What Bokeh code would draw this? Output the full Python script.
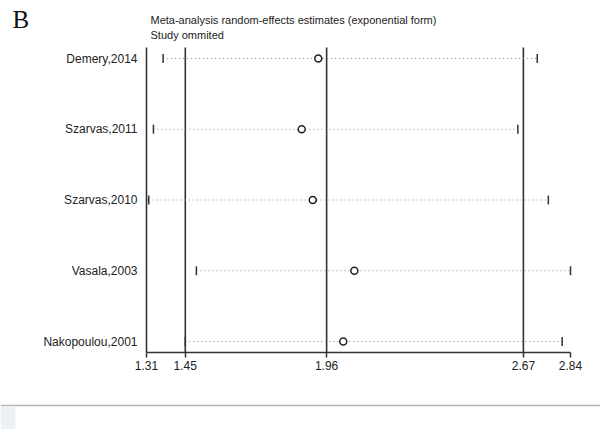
from bokeh.plotting import figure
from bokeh.models import Range1d, LinearAxis, FixedTicker, Label, Span, BoxAnnotation, PrintfTickFormatter
from bokeh.core.properties import value
from bokeh.embed import file_html
from bokeh.resources import INLINE

# ---- data ----
studies = ["Demery,2014", "Szarvas,2011", "Szarvas,2010", "Vasala,2003", "Nakopoulou,2001"]
estimate = [1.93, 1.87, 1.91, 2.06, 2.02]
lower_ci = [1.37, 1.335, 1.318, 1.49, 1.45]
upper_ci = [2.72, 2.65, 2.76, 2.84, 2.81]
summary_lines = [1.45, 1.96, 2.67]
axis_min, axis_max = 1.31, 2.84
tick_values = [1.31, 1.45, 1.96, 2.67, 2.84]
rows = [5, 4, 3, 2, 1]

title1 = "Meta-analysis random-effects estimates (exponential form)"
title2 = "Study ommited"

# ---- layout ----
W, H = 600, 429
px_x = 424 / (axis_max - axis_min)
px_y = 70.75
x0 = axis_min - 146 / px_x
x1 = x0 + W / px_x
y0 = 1 - 88 / px_y
y1 = y0 + H / px_y
axis_y = y0 + 77 / px_y
top_y = 5 + 11 / px_y

DARK = "#333333"
FONT = "Liberation Sans"

p = figure(width=W, height=H, x_range=Range1d(x0, x1), y_range=Range1d(y0, y1),
           x_axis_type=None, y_axis_type=None, toolbar_location=None,
           output_backend="svg", min_border=0, outline_line_color=None)

# vertical reference lines (axis at min + summary lines)
vx = [axis_min] + summary_lines
p.segment(x0=vx, y0=[axis_y] * len(vx), x1=vx, y1=[top_y] * len(vx),
          line_color=DARK, line_width=1.6)

# dotted CI lines
p.segment(x0=lower_ci, y0=rows, x1=upper_ci, y1=rows,
          line_color="#8c8c8c", line_width=1, line_dash="1 3")

# CI end ticks
h = 4.5 / px_y
ends = lower_ci + upper_ci
rr = rows + rows
p.segment(x0=ends, y0=[r - h for r in rr], x1=ends, y1=[r + h for r in rr],
          line_color=DARK, line_width=1.5)

# estimates
p.scatter(x=estimate, y=rows, marker="circle", size=7, fill_color="white",
          line_color="#222222", line_width=1.5)

# study labels
p.text(x=[axis_min] * len(rows), y=rows, text=studies, x_offset=-9,
       text_align="right", text_baseline="middle", text_font=value(FONT),
       text_font_size="12px", text_color="#222222")

# x axis
ax = LinearAxis(fixed_location=axis_y, bounds=(axis_min, axis_max),
                ticker=FixedTicker(ticks=tick_values),
                formatter=PrintfTickFormatter(format="%.2f"),
                major_tick_out=5, major_tick_in=0, minor_tick_out=0, minor_tick_in=0,
                axis_line_color=DARK, axis_line_width=1.5,
                major_tick_line_color=DARK, major_tick_line_width=1.5,
                major_label_text_font=FONT, major_label_text_font_size="12px",
                major_label_text_color="#222222", major_label_standoff=3)
p.add_layout(ax, "below")

# titles
p.add_layout(Label(x=axis_min, y=top_y, x_offset=4, y_offset=28, text=title1,
                   text_baseline="middle", text_font=FONT, text_font_size="11px",
                   text_color="#222222"))
p.add_layout(Label(x=axis_min, y=top_y, x_offset=4, y_offset=13, text=title2,
                   text_baseline="middle", text_font=FONT, text_font_size="11px",
                   text_color="#222222"))
p.add_layout(Label(x=x0, y=top_y, x_offset=12, y_offset=28, text="B",
                   text_baseline="middle", text_font="Liberation Serif",
                   text_font_size="25px", text_color="#111111"))

# page decoration at the bottom
p.add_layout(Span(location=y0 + 24 / px_y, dimension="width",
                  line_color="#b5b5b5", line_width=1.5))
p.add_layout(BoxAnnotation(left=x0, right=x0 + 15 / px_x, bottom=y0, top=y0 + 23 / px_y,
                           fill_color="#edf1f5", fill_alpha=1, line_color=None))

open("out.html", "w").write(file_html(p, INLINE))
